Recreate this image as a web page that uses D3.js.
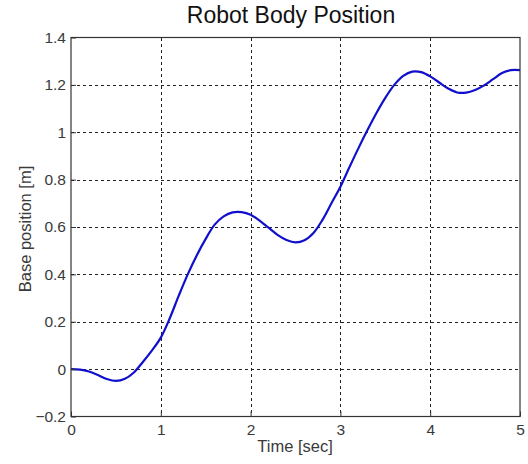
<!DOCTYPE html>
<html>
<head>
<meta charset="utf-8">
<script src="https://cdn.jsdelivr.net/npm/d3@7"></script>
<style>
  html, body { margin: 0; padding: 0; background: #fff; }
  svg { display: block; font-family: "Liberation Sans", Arial, sans-serif; }
</style>
</head>
<body>
<svg id="chart" width="528" height="464"></svg>
<script>
// Base position of the robot body over time
const timeSec = [0, 0.1, 0.2, 0.3, 0.4, 0.5, 0.6, 0.7, 0.8, 0.9,
                 1.0, 1.1, 1.2, 1.3, 1.4, 1.5, 1.6, 1.7, 1.8, 1.9,
                 2.0, 2.1, 2.2, 2.3, 2.4, 2.5, 2.6, 2.7, 2.8, 2.9,
                 3.0, 3.1, 3.2, 3.3, 3.4, 3.5, 3.6, 3.7, 3.8, 3.9,
                 4.0, 4.1, 4.2, 4.3, 4.4, 4.5, 4.6, 4.7, 4.8, 4.9, 5.0];
const basePos = [0, -0.002, -0.01, -0.025, -0.042, -0.05, -0.041, -0.014, 0.03, 0.078,
                 0.133, 0.215, 0.31, 0.40, 0.48, 0.55, 0.61, 0.645, 0.662, 0.663,
                 0.652, 0.627, 0.597, 0.567, 0.545, 0.535, 0.544, 0.575, 0.63, 0.70,
                 0.77, 0.852, 0.932, 1.008, 1.08, 1.145, 1.2, 1.238, 1.256, 1.254,
                 1.236, 1.21, 1.185, 1.168, 1.167, 1.178, 1.198, 1.224, 1.25, 1.262, 1.262];
const xTicks = [0, 1, 2, 3, 4, 5];
const yTicks = [-0.2, 0, 0.2, 0.4, 0.6, 0.8, 1, 1.2, 1.4];

const svg = d3.select("#chart");
const plotL = 71, plotR = 520, plotT = 37.5, plotB = 416.5;

const x = d3.scaleLinear().domain([0, 5]).range([plotL, plotR]);
const y = d3.scaleLinear().domain([-0.2, 1.4]).range([plotB, plotT]);

// dashed grid
const grid = svg.append("g").attr("stroke", "#222").attr("stroke-width", 1)
  .attr("stroke-dasharray", "3,3").attr("shape-rendering", "crispEdges");
grid.selectAll("line.v").data(xTicks.slice(1, -1)).join("line")
  .attr("x1", d => Math.round(x(d)) + 0.5).attr("x2", d => Math.round(x(d)) + 0.5)
  .attr("y1", plotT).attr("y2", plotB);
grid.selectAll("line.h").data(yTicks.slice(1, -1)).join("line")
  .attr("y1", d => Math.round(y(d)) + 0.5).attr("y2", d => Math.round(y(d)) + 0.5)
  .attr("x1", plotL).attr("x2", plotR);

// curve
const line = d3.line().x((d, i) => x(timeSec[i])).y(d => y(d))
  .curve(d3.curveCatmullRom.alpha(0.5));
svg.append("path").datum(basePos)
  .attr("fill", "none").attr("stroke", "#1010cc").attr("stroke-width", 2.2)
  .attr("stroke-linejoin", "round").attr("d", line);

// frame
svg.append("rect").attr("x", plotL).attr("y", plotT)
  .attr("width", plotR - plotL).attr("height", plotB - plotT)
  .attr("fill", "none").attr("stroke", "#333").attr("stroke-width", 1.2);

// axes with inward ticks
const xAxis = d3.axisBottom(x).tickValues(xTicks).tickSize(-5).tickPadding(7)
  .tickFormat(d3.format("d"));
const gx = svg.append("g").attr("transform", `translate(0,${plotB})`).call(xAxis);
const yAxis = d3.axisLeft(y).tickValues(yTicks).tickSize(-5).tickPadding(5)
  .tickFormat(d => d === 0 ? "0" : (d === 1 ? "1" : d3.format(".1f")(d)));
const gy = svg.append("g").attr("transform", `translate(${plotL},0)`).call(yAxis);
[gx, gy].forEach(g => {
  g.select(".domain").remove();
  g.selectAll(".tick line").attr("stroke", "#333");
  g.selectAll(".tick text").attr("fill", "#3a3a3a").attr("font-size", 15.5)
    .attr("font-family", "'Liberation Sans', Arial, sans-serif");
});

// titles
svg.append("text").attr("x", 291).attr("y", 23).attr("text-anchor", "middle")
  .attr("font-size", 23).attr("fill", "#111").text("Robot Body Position");
svg.append("text").attr("x", 295).attr("y", 452).attr("text-anchor", "middle")
  .attr("font-size", 16.5).attr("fill", "#3a3a3a").text("Time [sec]");
svg.append("text").attr("transform", "translate(31,229) rotate(-90)")
  .attr("text-anchor", "middle").attr("font-size", 16.5).attr("fill", "#3a3a3a")
  .text("Base position [m]");
</script>
</body>
</html>
